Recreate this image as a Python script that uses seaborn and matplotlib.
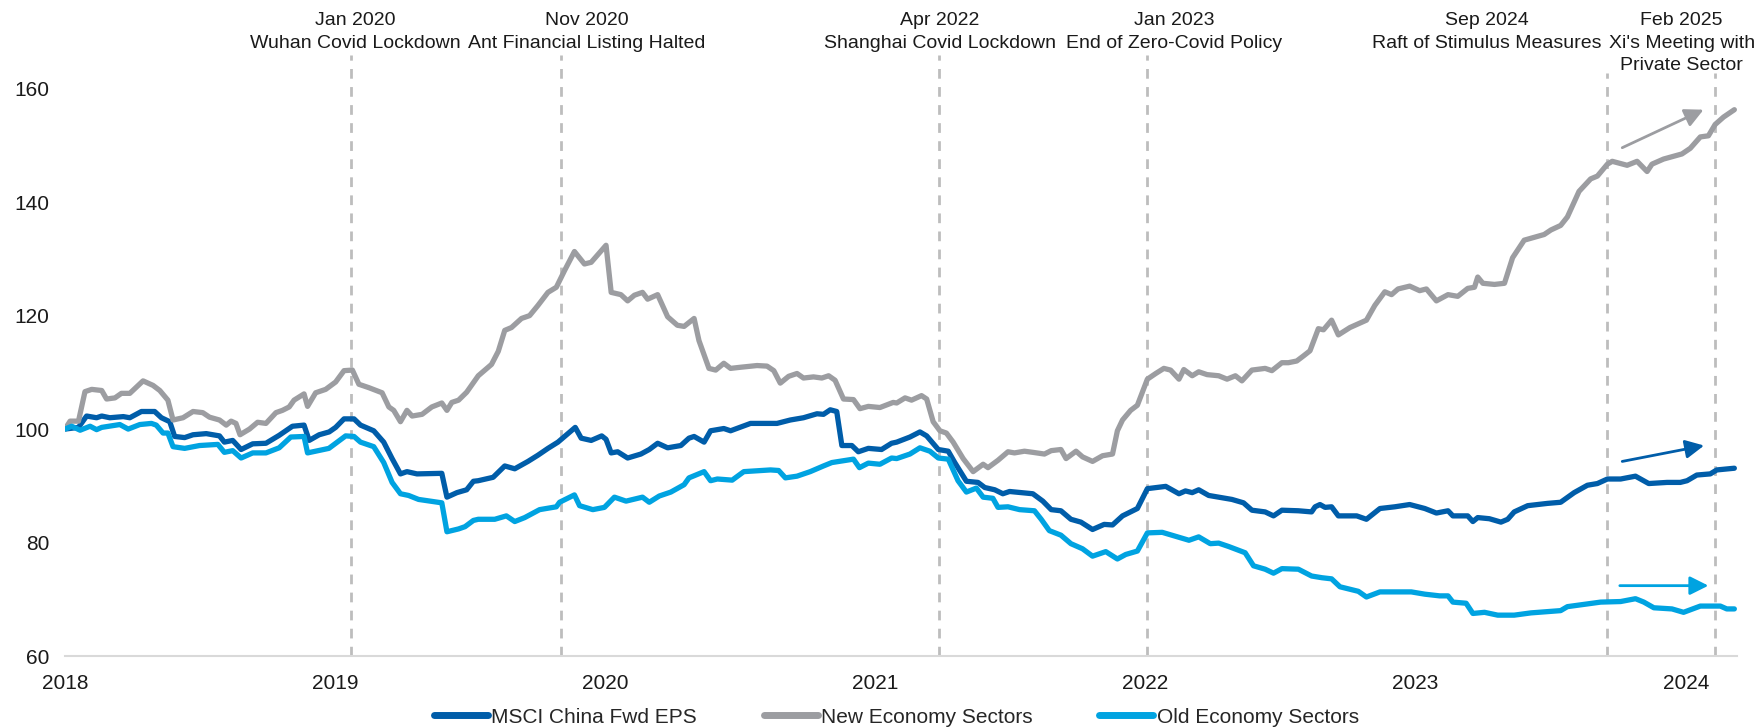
import matplotlib
matplotlib.use("Agg")
import matplotlib.pyplot as plt
import matplotlib.transforms as mtransforms
from matplotlib.lines import Line2D
import seaborn as sns
import pandas as pd

# series labels and colours
series_names = ["MSCI China Fwd EPS", "New Economy Sectors", "Old Economy Sectors"]
series_colors = ["#005DA9", "#9C9DA1", "#00A3E1"]

# New Economy Sectors (grey)
new_x = [2018.000, 2018.019, 2018.050, 2018.074, 2018.099, 2018.136, 2018.154, 2018.185, 2018.209, 2018.240,
         2018.289, 2018.326, 2018.351, 2018.381, 2018.400, 2018.437, 2018.474, 2018.510, 2018.535, 2018.572,
         2018.597, 2018.615, 2018.633, 2018.648, 2018.683, 2018.713, 2018.744, 2018.781, 2018.805, 2018.830,
         2018.848, 2018.885, 2018.898, 2018.928, 2018.965, 2019.002, 2019.033, 2019.064, 2019.088, 2019.125,
         2019.174, 2019.199, 2019.217, 2019.242, 2019.266, 2019.285, 2019.322, 2019.358, 2019.395, 2019.414,
         2019.432, 2019.457, 2019.487,
         2019.530, 2019.579, 2019.604, 2019.628, 2019.653, 2019.690, 2019.720, 2019.751, 2019.788, 2019.819,
         2019.850, 2019.886, 2019.923, 2019.948, 2019.979, 2020.003, 2020.022, 2020.058, 2020.083, 2020.108,
         2020.138, 2020.157, 2020.194, 2020.231, 2020.267, 2020.292, 2020.329, 2020.347, 2020.384, 2020.409,
         2020.439, 2020.464, 2020.501, 2020.562, 2020.599, 2020.624, 2020.648, 2020.679, 2020.710, 2020.734,
         2020.771, 2020.802, 2020.827, 2020.851, 2020.882, 2020.919, 2020.943, 2020.974, 2021.017, 2021.066,
         2021.079, 2021.110, 2021.134, 2021.171, 2021.190, 2021.214, 2021.239, 2021.263, 2021.288, 2021.325,
         2021.362, 2021.399, 2021.417, 2021.454, 2021.491, 2021.515, 2021.552, 2021.583, 2021.626, 2021.651,
         2021.687, 2021.706, 2021.743, 2021.767, 2021.804, 2021.841, 2021.878, 2021.896, 2021.915, 2021.945,
         2021.970, 2022.007, 2022.038, 2022.068, 2022.093, 2022.124, 2022.142, 2022.173, 2022.197, 2022.228,
         2022.271, 2022.302, 2022.333, 2022.357, 2022.394, 2022.443, 2022.468, 2022.505, 2022.529, 2022.560,
         2022.585, 2022.609,
         2022.640, 2022.659, 2022.689, 2022.714, 2022.757, 2022.818, 2022.849, 2022.886, 2022.911, 2022.935,
         2022.978, 2023.015, 2023.040, 2023.077, 2023.120, 2023.156, 2023.193, 2023.218, 2023.230, 2023.249,
         2023.292, 2023.329, 2023.359, 2023.402, 2023.439, 2023.476, 2023.501, 2023.537, 2023.562, 2023.605,
         2023.648, 2023.673, 2023.710, 2023.728, 2023.783, 2023.820, 2023.857, 2023.875, 2023.918, 2023.986,
         2024.017, 2024.054, 2024.084, 2024.109, 2024.140, 2024.180]
new_y = [100.0, 101.4, 101.4, 106.6, 107.0, 106.8, 105.3, 105.5, 106.3, 106.3,
         108.5, 107.7, 106.8, 105.1, 101.6, 102.0, 103.1, 102.9, 102.1, 101.6,
         100.7, 101.4, 101.0, 99.0, 100.0, 101.2, 101.0, 102.9, 103.3, 103.9,
         105.1, 106.2, 104.0, 106.4, 107.0, 108.3, 110.3, 110.4, 107.9, 107.3,
         106.4, 103.9, 103.3, 101.3, 103.3, 102.3, 102.6, 103.9, 104.6, 103.3,
         104.7, 105.1, 106.5,
         109.4, 111.4, 113.7, 117.4, 117.9, 119.5, 120.0, 121.8, 124.1, 125.0,
         128.0, 131.3, 129.1, 129.4, 131.1, 132.4, 124.1, 123.7, 122.6, 123.6,
         124.1, 122.9, 123.7, 119.8, 118.3, 118.1, 119.5, 115.6, 110.7, 110.4,
         111.6, 110.7, 110.9, 111.2, 111.1, 110.3, 108.1, 109.3, 109.8, 109.0,
         109.2, 109.0, 109.4, 108.6, 105.3, 105.2, 103.6, 104.0, 103.8, 104.7,
         104.6, 105.5, 105.1, 105.9, 105.3, 101.3, 99.7, 99.3, 97.7, 94.8,
         92.5, 93.8, 93.2, 94.5, 96.0, 95.8, 96.1, 95.9, 95.6, 96.2,
         96.4, 94.8, 96.1, 95.1, 94.3, 95.3, 95.6, 99.7, 101.6, 103.3,
         104.2, 108.8, 109.8, 110.7, 110.4, 108.8, 110.5, 109.4, 110.1, 109.6,
         109.4, 108.8, 109.4, 108.5, 110.4, 110.7, 110.3, 111.7, 111.7, 112.0,
         112.9, 113.8,
         117.7, 117.5, 119.2, 116.6, 117.9, 119.2, 121.8, 124.2, 123.7, 124.7,
         125.2, 124.4, 124.7, 122.6, 123.7, 123.4, 124.8, 125.0, 126.8, 125.7,
         125.5, 125.7, 130.2, 133.3, 133.8, 134.3, 135.1, 135.9, 137.4, 141.9,
         144.1, 144.6, 146.7, 147.2, 146.5, 147.2, 145.4, 146.7, 147.6, 148.5,
         149.5, 151.5, 151.7, 153.7, 155.0, 156.3]

# MSCI China Fwd EPS (dark blue)
msci_x = [2018.000, 2018.050, 2018.080, 2018.117, 2018.136, 2018.166, 2018.216, 2018.240, 2018.283, 2018.332,
          2018.357, 2018.388, 2018.406, 2018.443, 2018.474, 2018.523, 2018.572, 2018.590, 2018.621, 2018.652,
          2018.695, 2018.744, 2018.793, 2018.842, 2018.885, 2018.904, 2018.941, 2018.978, 2019.002, 2019.033,
          2019.070, 2019.094, 2019.143, 2019.180, 2019.211, 2019.242, 2019.266, 2019.303, 2019.395, 2019.414,
          2019.451, 2019.487, 2019.512,
          2019.530, 2019.585, 2019.628, 2019.665, 2019.714, 2019.751, 2019.788, 2019.825, 2019.862, 2019.889,
          2019.911, 2019.948, 2019.987, 2020.003, 2020.022, 2020.046, 2020.083, 2020.132, 2020.163, 2020.194,
          2020.231, 2020.280, 2020.310, 2020.329, 2020.366, 2020.390, 2020.439, 2020.464, 2020.538, 2020.636,
          2020.685, 2020.734, 2020.784, 2020.808, 2020.833, 2020.857, 2020.876, 2020.913, 2020.937, 2020.974,
          2021.023, 2021.060,
          2021.079, 2021.128, 2021.165, 2021.190, 2021.233, 2021.270, 2021.294, 2021.337, 2021.380, 2021.405,
          2021.442, 2021.472, 2021.497, 2021.583, 2021.620, 2021.651, 2021.687, 2021.724, 2021.761, 2021.804,
          2021.847, 2021.878, 2021.915, 2021.970, 2022.007, 2022.075, 2022.124, 2022.148, 2022.173, 2022.197,
          2022.234, 2022.320, 2022.363, 2022.394, 2022.443, 2022.474, 2022.505, 2022.566, 2022.615,
          2022.628, 2022.646, 2022.665, 2022.689, 2022.714, 2022.782, 2022.818, 2022.868, 2022.923, 2022.978,
          2023.034, 2023.077, 2023.120, 2023.138, 2023.193, 2023.212, 2023.230, 2023.273, 2023.316, 2023.341,
          2023.365, 2023.415, 2023.488, 2023.537, 2023.587, 2023.636, 2023.673, 2023.710, 2023.759, 2023.814,
          2023.863, 2023.931, 2023.980, 2024.005, 2024.041, 2024.091, 2024.115, 2024.180]
msci_y = [100.0, 100.3, 102.3, 102.0, 102.3, 102.0, 102.2, 102.0, 103.1, 103.1,
          102.0, 101.3, 98.7, 98.5, 99.0, 99.2, 98.8, 97.7, 98.0, 96.4,
          97.4, 97.5, 98.9, 100.5, 100.7, 98.0, 99.0, 99.5, 100.3, 101.8,
          101.8, 100.7, 99.7, 97.7, 94.8, 92.1, 92.5, 92.1, 92.2, 88.0,
          88.8, 89.3, 90.8,
          90.9, 91.5, 93.5, 93.0, 94.3, 95.4, 96.6, 97.7, 99.2, 100.3,
          98.4, 98.0, 98.8, 98.2, 95.8, 96.0, 94.9, 95.6, 96.4, 97.5,
          96.7, 97.1, 98.4, 98.7, 97.7, 99.7, 100.1, 99.7, 101.0, 101.0,
          101.6, 102.0, 102.7, 102.6, 103.4, 103.1, 97.1, 97.1, 96.0, 96.6,
          96.4, 97.5,
          97.7, 98.6, 99.5, 98.8, 96.4, 96.1, 94.1, 90.8, 90.6, 89.7,
          89.3, 88.6, 89.0, 88.6, 87.3, 85.8, 85.6, 84.1, 83.6, 82.3,
          83.2, 83.1, 84.7, 86.0, 89.5, 89.9, 88.6, 89.1, 88.8, 89.3,
          88.3, 87.6, 87.0, 85.7, 85.4, 84.7, 85.7, 85.6, 85.4,
          86.3, 86.7, 86.2, 86.3, 84.7, 84.7, 84.1, 86.0, 86.3, 86.7,
          86.0, 85.2, 85.6, 84.7, 84.7, 83.7, 84.4, 84.2, 83.6, 84.1,
          85.4, 86.5, 86.9, 87.1, 88.8, 90.1, 90.4, 91.2, 91.2, 91.7,
          90.4, 90.6, 90.6, 90.9, 91.9, 92.1, 92.8, 93.1]

# Old Economy Sectors (light blue)
old_x = [2018.000, 2018.025, 2018.056, 2018.093, 2018.117, 2018.136, 2018.203, 2018.234, 2018.277, 2018.320,
         2018.338, 2018.363, 2018.381, 2018.400, 2018.443, 2018.498, 2018.566, 2018.590, 2018.621, 2018.652,
         2018.695, 2018.744, 2018.793, 2018.836, 2018.885, 2018.898, 2018.977, 2019.039, 2019.070, 2019.094,
         2019.143, 2019.180, 2019.211, 2019.242, 2019.272, 2019.309, 2019.383, 2019.395, 2019.414, 2019.457,
         2019.481, 2019.512,
         2019.530, 2019.591, 2019.634, 2019.665, 2019.702, 2019.757, 2019.819, 2019.831, 2019.886, 2019.905,
         2019.954, 2019.997, 2020.034, 2020.077, 2020.138, 2020.163, 2020.200, 2020.243, 2020.292, 2020.310,
         2020.366, 2020.390, 2020.415, 2020.470, 2020.513, 2020.612, 2020.642, 2020.667, 2020.710, 2020.759,
         2020.808, 2020.839, 2020.919, 2020.941, 2020.974, 2021.017, 2021.060,
         2021.079, 2021.128, 2021.165, 2021.202, 2021.233, 2021.270, 2021.306, 2021.337, 2021.374, 2021.399,
         2021.435, 2021.454, 2021.491, 2021.534, 2021.589, 2021.614, 2021.644, 2021.687, 2021.724, 2021.767,
         2021.804, 2021.853, 2021.896, 2021.927, 2021.970, 2022.007, 2022.062, 2022.111, 2022.161, 2022.197,
         2022.240, 2022.271, 2022.308, 2022.369, 2022.400, 2022.443, 2022.474, 2022.505, 2022.566, 2022.615,
         2022.653, 2022.689, 2022.720, 2022.763, 2022.788, 2022.818, 2022.868, 2022.923, 2022.984, 2023.034,
         2023.089, 2023.120, 2023.138, 2023.187, 2023.212, 2023.255, 2023.304, 2023.365, 2023.427, 2023.537,
         2023.562, 2023.623, 2023.685, 2023.759, 2023.814, 2023.845, 2023.882, 2023.949, 2023.992, 2024.054,
         2024.128, 2024.152, 2024.180]
old_y = [100.0, 100.5, 99.8, 100.5, 99.9, 100.3, 100.8, 100.0, 100.8, 101.0,
         100.7, 99.3, 99.3, 96.9, 96.6, 97.1, 97.3, 95.9, 96.2, 94.9,
         95.8, 95.8, 96.7, 98.6, 98.7, 95.8, 96.6, 98.8, 98.7, 97.7,
         96.9, 94.1, 90.6, 88.6, 88.3, 87.6, 87.1, 87.0, 81.9, 82.4,
         82.8, 83.9,
         84.1, 84.1, 84.7, 83.7, 84.4, 85.8, 86.3, 87.1, 88.4, 86.5,
         85.8, 86.2, 88.0, 87.3, 88.0, 87.1, 88.2, 88.9, 90.2, 91.4,
         92.5, 90.9, 91.2, 91.0, 92.5, 92.8, 92.7, 91.4, 91.7, 92.5,
         93.5, 94.1, 94.7, 93.2, 94.0, 93.8, 94.9,
         94.8, 95.6, 96.7, 96.1, 94.9, 94.7, 90.9, 88.9, 89.6, 88.0,
         87.8, 86.2, 86.3, 85.8, 85.6, 84.1, 82.1, 81.3, 79.8, 78.9,
         77.6, 78.4, 77.1, 77.9, 78.5, 81.7, 81.8, 81.1, 80.4, 81.0,
         79.8, 79.9, 79.3, 78.2, 75.9, 75.3, 74.6, 75.4, 75.3, 74.1,
         73.8, 73.6, 72.2, 71.7, 71.4, 70.4, 71.3, 71.3, 71.3, 70.9,
         70.6, 70.6, 69.5, 69.3, 67.5, 67.7, 67.2, 67.2, 67.6, 68.0,
         68.7, 69.1, 69.5, 69.6, 70.1, 69.5, 68.5, 68.3, 67.7, 68.8,
         68.8, 68.3, 68.3]

# event markers: dashed line position, line top, label centre, label text
event_x = [2019.058, 2019.836, 2021.237, 2022.005, 2023.708, 2024.110]
event_top = [166, 166, 166, 166, 162.8, 162.8]
label_x = [2019.073, 2019.932, 2021.240, 2022.105, 2023.262, 2023.985]
event_labels = ["Jan 2020\nWuhan Covid Lockdown",
                "Nov 2020\nAnt Financial Listing Halted",
                "Apr 2022\nShanghai Covid Lockdown",
                "Jan 2023\nEnd of Zero-Covid Policy",
                "Sep 2024\nRaft of Stimulus Measures",
                "Feb 2025\nXi's Meeting with\nPrivate Sector"]

# trend arrows (start, end) per series
arrow_start_x = [2023.765, 2023.765, 2023.756]
arrow_start_y = [94.3, 149.6, 72.4]
arrow_end_x = [2024.068, 2024.066, 2024.084]
arrow_end_y = [97.1, 156.3, 72.4]

year_ticks = [2018, 2019, 2020, 2021, 2022, 2023, 2024]
value_ticks = [60, 80, 100, 120, 140, 160]

# build long table
frames = []
for name, xs, ys in zip(series_names, [msci_x, new_x, old_x], [msci_y, new_y, old_y]):
    frames.append(pd.DataFrame({"year": xs, "value": ys, "series": name}))
df = pd.concat(frames, ignore_index=True)

sns.set_style("white")
plt.rcParams['font.family'] = ['Liberation Sans', 'DejaVu Sans']
font_size = 15
label_size = 14
text_color = "#1A1A1A"

fig = plt.figure(figsize=(17.61, 7.28), dpi=100)
ax = fig.add_axes([0.0369, 0.0989, 0.9495, 0.8338])

# dashed event lines (drawn first so series sit on top)
for ex, top in zip(event_x, event_top):
    ax.plot([ex, ex], [60, top], color="#BDBDBD", lw=2, linestyle=(0, (3.5, 3)), zorder=1, clip_on=False)

sns.lineplot(data=df, x="year", y="value", hue="series", hue_order=series_names,
             palette=series_colors, linewidth=3.8, estimator=None, sort=False,
             legend=False, ax=ax, zorder=3)

# trend arrows
for i in range(len(series_names)):
    ax.annotate("", xy=(arrow_end_x[i], arrow_end_y[i]), xytext=(arrow_start_x[i], arrow_start_y[i]),
                arrowprops=dict(arrowstyle="-|>", color=series_colors[i], lw=2, mutation_scale=28,
                                shrinkA=0, shrinkB=0), zorder=4)

# event labels above the plot
trans = mtransforms.blended_transform_factory(ax.transData, fig.transFigure)
for lx, label in zip(label_x, event_labels):
    for k, line in enumerate(label.split("\n")):
        ax.text(lx, 0.972 - k * 0.0312, line, transform=trans, ha="center", va="center",
                fontsize=label_size, color=text_color)

ax.set_xlim(2018, 2024.19)
ax.set_ylim(60, 167)
ax.set_xticks(year_ticks)
ax.set_xticklabels([str(t) for t in year_ticks])
ax.set_yticks(value_ticks)
ax.set_yticklabels([str(t) for t in value_ticks])
ax.set_xlabel("")
ax.set_ylabel("")
for side in ["top", "right", "left"]:
    ax.spines[side].set_visible(False)
ax.spines["bottom"].set_color("#D9D9D9")
ax.spines["bottom"].set_linewidth(1.5)
ax.tick_params(axis="x", length=5, width=1.2, color="#D0D0D0", pad=8, labelsize=font_size, labelcolor=text_color)
ax.tick_params(axis="y", length=0, pad=11, labelsize=font_size, labelcolor=text_color)

handles = [Line2D([0], [0], color=c, lw=5, solid_capstyle="round") for c in series_colors]
fig.legend(handles, series_names, loc="center", bbox_to_anchor=(0.509, 0.015), ncol=3,
           frameon=False, fontsize=font_size, handlelength=2.6, handletextpad=0.15,
           columnspacing=3.2)

fig.savefig("out.png", dpi=100)
